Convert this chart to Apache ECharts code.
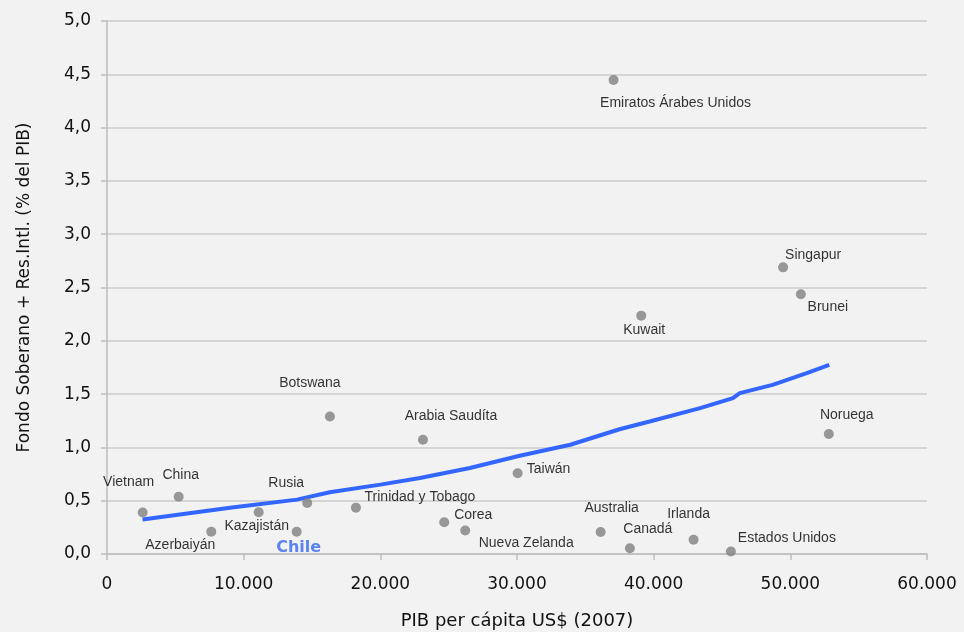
<!DOCTYPE html>
<html>
<head>
<meta charset="utf-8">
<script src="https://cdn.jsdelivr.net/npm/echarts@6/dist/echarts.min.js"></script>
<style>
html,body{margin:0;padding:0;background:#f2f2f2;}
#c{width:964px;height:632px;}
</style>
</head>
<body>
<div id="c"></div>
<script>
// ---- DATA ----
const countries = ['Vietnam','China','Azerbaiyán','Kazajistán','Chile','Rusia','Botswana','Trinidad y Tobago','Arabia Saudíta','Corea','Nueva Zelanda','Taiwán','Australia','Emiratos Árabes Unidos','Canadá','Kuwait','Irlanda','Estados Unidos','Singapur','Brunei','Noruega'];
const gdpPerCapita = [2610, 5245, 7630, 11100, 13880, 14650, 16310, 18215, 23120, 24675, 26210, 30045, 36120, 37065, 38260, 39090, 42920, 45650, 49470, 50770, 52815];
const fundPctGdp = [0.39, 0.537, 0.208, 0.391, 0.208, 0.479, 1.29, 0.435, 1.072, 0.298, 0.22, 0.757, 0.206, 4.446, 0.054, 2.236, 0.133, 0.023, 2.689, 2.436, 1.125];
const trendX = [2600, 9000, 13900, 16300, 20000, 22900, 26550, 30200, 33900, 37500, 39700, 43400, 45800, 46300, 48700, 51200, 52850];
const trendY = [0.323, 0.433, 0.510, 0.579, 0.651, 0.713, 0.807, 0.922, 1.025, 1.17, 1.243, 1.369, 1.463, 1.509, 1.587, 1.697, 1.774];

// ---- label placement (offset of label centre from the dot, px) ----
const labelOffsets = {
  'Vietnam':[-14,-30],'China':[2,-22],'Azerbaiyán':[-31,13],'Kazajistán':[-2,14],'Chile':[2,16],
  'Rusia':[-21,-20],'Botswana':[-20,-33],'Trinidad y Tobago':[64,-10],'Arabia Saudíta':[28,-24],
  'Corea':[29,-7],'Nueva Zelanda':[61,13],'Taiwán':[31,-4],'Australia':[11,-24],
  'Emiratos Árabes Unidos':[62,23],'Canadá':[18,-19],'Kuwait':[3,14],'Irlanda':[-5,-26],
  'Estados Unidos':[56,-13],'Singapur':[30,-12],'Brunei':[27,13],'Noruega':[18,-19]
};

const SYM = 10;
const scatterData = countries.map((name, i) => {
  const off = labelOffsets[name];
  const isChile = name === 'Chile';
  return {
    name: name,
    value: [gdpPerCapita[i], fundPctGdp[i]],
    label: {
      show: true,
      formatter: name,
      position: [SYM/2 + off[0], SYM/2 + off[1]],
      align: 'center',
      verticalAlign: 'middle',
      fontFamily: isChile ? 'DejaVu Sans' : 'Liberation Sans',
      fontWeight: isChile ? 'bold' : 'normal',
      fontSize: isChile ? 16 : 14,
      color: isChile ? '#3366ee' : '#000000'
    }
  };
});

const fmtY = v => v.toFixed(1).replace('.', ',');
const fmtX = v => v === 0 ? '0' : String(v).replace(/\B(?=(\d{3})+(?!\d))/g, '.');
const axisFont = 'DejaVu Sans';

const chart = echarts.init(document.getElementById('c'), null, {renderer: 'canvas'});
chart.setOption({
  backgroundColor: '#f2f2f2',
  animation: false,
  grid: {left: 107, right: 37, top: 21, bottom: 78, containLabel: false, outerBoundsMode: 'none'},
  xAxis: {
    type: 'value', min: 0, max: 60000, interval: 10000,
    name: 'PIB per cápita US$ (2007)', nameLocation: 'middle', nameGap: 58,
    nameTextStyle: {fontFamily: axisFont, fontSize: 18, color: '#111111'},
    axisLine: {show: true, lineStyle: {color: '#bdbdbd', width: 1.5}},
    axisTick: {show: true, length: 6, lineStyle: {color: '#bdbdbd', width: 1.5}},
    axisLabel: {formatter: fmtX, fontFamily: axisFont, fontSize: 17, color: '#111111', margin: 22},
    splitLine: {show: false}
  },
  yAxis: {
    type: 'value', min: 0, max: 5, interval: 0.5,
    name: 'Fondo Soberano + Res.Intl. (% del PIB)', nameLocation: 'middle', nameGap: 74, nameRotate: 90,
    nameTextStyle: {fontFamily: axisFont, fontSize: 17, color: '#111111'},
    axisLine: {show: true, lineStyle: {color: '#bdbdbd', width: 1.5}},
    axisTick: {show: true, length: 6, lineStyle: {color: '#bdbdbd', width: 1.5}},
    axisLabel: {formatter: fmtY, fontFamily: axisFont, fontSize: 17, color: '#111111', margin: 16},
    splitLine: {show: true, lineStyle: {color: '#cbcbcb', width: 1.5}}
  },
  series: [
    {
      type: 'line',
      data: trendX.map((x, i) => [x, trendY[i]]),
      showSymbol: false,
      smooth: false,
      lineStyle: {color: '#3366ff', width: 4},
      z: 3,
      silent: true
    },
    {
      type: 'scatter',
      data: scatterData,
      symbol: 'circle',
      symbolSize: SYM,
      itemStyle: {color: '#808080'},
      z: 4
    }
  ]
});
</script>
</body>
</html>
